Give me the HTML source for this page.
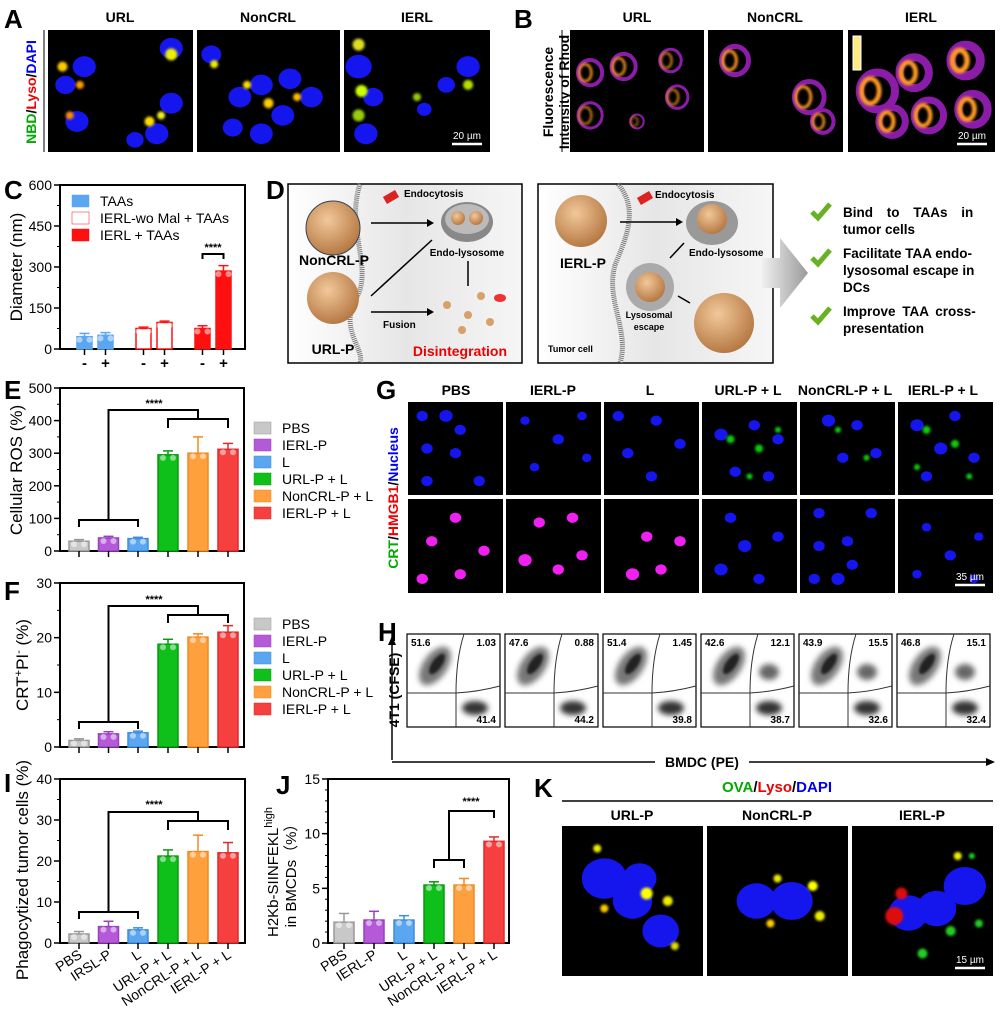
<!DOCTYPE html>
<html><head><meta charset="utf-8">
<style>
html,body{margin:0;padding:0;background:#fff;}
svg{display:block;font-family:"Liberation Sans",Arial,sans-serif;}
.pl{font-size:26px;font-weight:bold;}
.hd{font-size:14px;font-weight:bold;text-anchor:middle;}
.tk{font-size:14px;}
</style></head>
<body>
<svg id="fig" width="1000" height="1024" viewBox="0 0 1000 1024" xmlns="http://www.w3.org/2000/svg">
<defs>
<radialGradient id="sph" cx="40%" cy="35%" r="65%"><stop offset="0" stop-color="#f2c89a"/><stop offset="1" stop-color="#b77a45"/></radialGradient>
<linearGradient id="cellbg" x1="0" x2="1"><stop offset="0" stop-color="#ffffff"/><stop offset="0.5" stop-color="#e6e6e6"/><stop offset="1" stop-color="#f6f6f6"/></linearGradient>
<linearGradient id="arr" x1="0" x2="1"><stop offset="0" stop-color="#f0f0f0"/><stop offset="1" stop-color="#9a9a9a"/></linearGradient>
<filter id="bl" x="-50%" y="-50%" width="200%" height="200%"><feGaussianBlur stdDeviation="3"/></filter>
<filter id="bl2" x="-50%" y="-50%" width="200%" height="200%"><feGaussianBlur stdDeviation="1.2"/></filter>
</defs>

<text class="pl" x="4" y="28">A</text>
<text class="pl" x="514" y="28">B</text>
<text class="pl" x="4" y="199">C</text>
<text class="pl" x="266" y="199">D</text>
<text class="pl" x="4" y="399">E</text>
<text class="pl" x="4" y="600">F</text>
<text class="pl" x="376" y="399">G</text>
<text class="pl" x="378" y="641">H</text>
<text class="pl" x="4" y="792">I</text>
<text class="pl" x="276" y="794">J</text>
<text class="pl" x="534" y="797">K</text>

<g>
<text class="hd" x="120" y="22">URL</text>
<text class="hd" x="268" y="22">NonCRL</text>
<text class="hd" x="417" y="22">IERL</text>
<text transform="translate(36,92) rotate(-90)" text-anchor="middle" font-size="14" font-weight="bold"><tspan fill="#0a0">NBD</tspan><tspan fill="#000">/</tspan><tspan fill="#e00">Lyso</tspan><tspan fill="#000">/</tspan><tspan fill="#00e">DAPI</tspan></text>
<line x1="44" y1="30" x2="44" y2="152" stroke="#000" stroke-width="1"/>
</g>
<g>
<text class="hd" x="637" y="22">URL</text>
<text class="hd" x="775" y="22">NonCRL</text>
<text class="hd" x="921" y="22">IERL</text>
<text transform="translate(553,92) rotate(-90)" text-anchor="middle" font-size="14" font-weight="bold">Fluorescence</text>
<text transform="translate(569,92) rotate(-90)" text-anchor="middle" font-size="14" font-weight="bold">Intensity of Rhod</text>
<line x1="562" y1="30" x2="562" y2="152" stroke="#000"/>
</g>
<g id="imgs"></g>

<g>
<rect x="288" y="184" width="234" height="179" fill="url(#cellbg)" stroke="#000" stroke-width="1.5"/>
<path d="M360 184 C345 230 375 270 355 300 C340 330 365 350 360 363" fill="none" stroke="#777" stroke-width="5" stroke-dasharray="1 1"/>
<circle cx="333" cy="228" r="27" fill="url(#sph)" stroke="#345" stroke-width="1"/>
<circle cx="333" cy="298" r="26" fill="url(#sph)"/>
<text x="334" y="265" font-size="14" font-weight="bold" text-anchor="middle">NonCRL-P</text>
<text x="333" y="354" font-size="14" font-weight="bold" text-anchor="middle">URL-P</text>
<text x="404" y="197" font-size="10" font-weight="bold">Endocytosis</text>
<rect x="384" y="193" width="14" height="8" fill="#d22" transform="rotate(-30 391 197)"/>
<line x1="371" y1="223" x2="430" y2="223" stroke="#000" stroke-width="1.5"/><polygon points="434,223 427,219 427,227" fill="#000"/>
<ellipse cx="467" cy="222" rx="26" ry="20" fill="#888"/><ellipse cx="467" cy="219" rx="22" ry="15" fill="#bbb"/>
<circle cx="458" cy="218" r="7" fill="url(#sph)"/><circle cx="476" cy="218" r="7" fill="url(#sph)"/>
<text x="467" y="256" font-size="10" font-weight="bold" text-anchor="middle">Endo-lysosome</text>
<line x1="371" y1="296" x2="432" y2="240" stroke="#000" stroke-width="1.5"/>
<line x1="468" y1="261" x2="468" y2="286" stroke="#000" stroke-width="1.5"/>
<line x1="371" y1="312" x2="430" y2="312" stroke="#000" stroke-width="1.5"/><polygon points="434,312 427,308 427,316" fill="#000"/>
<text x="383" y="328" font-size="10" font-weight="bold">Fusion</text>
<g fill="#d9a06a"><circle cx="447" cy="305" r="4"/><circle cx="468" cy="315" r="4"/><circle cx="462" cy="330" r="4"/><circle cx="490" cy="322" r="4"/><circle cx="481" cy="296" r="4"/></g>
<ellipse cx="500" cy="298" rx="6" ry="4" fill="#e33"/>
<text x="507" y="356" font-size="14" font-weight="bold" fill="#e00" text-anchor="end">Disintegration</text>

<rect x="538" y="184" width="235" height="179" fill="url(#cellbg)" stroke="#000" stroke-width="1.5"/>
<path d="M618 184 C640 210 625 240 615 265 C605 300 630 330 620 363" fill="none" stroke="#777" stroke-width="5" stroke-dasharray="1 1"/>
<circle cx="581" cy="221" r="26" fill="url(#sph)"/>
<text x="583" y="268" font-size="14" font-weight="bold" text-anchor="middle">IERL-P</text>
<text x="655" y="198" font-size="10" font-weight="bold">Endocytosis</text>
<rect x="638" y="194" width="14" height="8" fill="#d22" transform="rotate(-30 645 198)"/>
<line x1="620" y1="222" x2="678" y2="222" stroke="#000" stroke-width="1.5"/><polygon points="683,222 676,218 676,226" fill="#000"/>
<ellipse cx="712" cy="223" rx="26" ry="22" fill="#999"/><circle cx="712" cy="219" r="15" fill="url(#sph)"/>
<text x="689" y="256" font-size="10" font-weight="bold">Endo-lysosome</text>
<line x1="684" y1="243" x2="670" y2="258" stroke="#000" stroke-width="1.5"/>
<circle cx="650" cy="287" r="24" fill="#aaa"/><circle cx="650" cy="287" r="15" fill="url(#sph)"/>
<text x="649" y="318" font-size="9" font-weight="bold" text-anchor="middle">Lysosomal</text>
<text x="649" y="330" font-size="9" font-weight="bold" text-anchor="middle">escape</text>
<line x1="678" y1="296" x2="690" y2="303" stroke="#000" stroke-width="1.5"/>
<circle cx="724" cy="323" r="30" fill="url(#sph)"/>
<text x="548" y="352" font-size="9" font-weight="bold">Tumor cell</text>
<polygon points="762,258 780,258 780,238 808,273 780,308 780,288 762,288" fill="url(#arr)"/>
<g font-size="13.5" font-weight="bold">
<path d="M812 212 l6 6 l12 -14" stroke="#6ab023" stroke-width="5" fill="none"/>
<text x="843" y="217" word-spacing="10">Bind to TAAs in</text>
<text x="843" y="234">tumor cells</text>
<path d="M812 258 l6 6 l12 -14" stroke="#6ab023" stroke-width="5" fill="none"/>
<text x="843" y="258">Facilitate TAA endo-</text>
<text x="843" y="275">lysosomal escape in</text>
<text x="843" y="292">DCs</text>
<path d="M812 316 l6 6 l12 -14" stroke="#6ab023" stroke-width="5" fill="none"/>
<text x="843" y="316" word-spacing="3">Improve TAA cross-</text>
<text x="843" y="333">presentation</text>
</g>
</g>

<g>
<text class="hd" x="456" y="395">PBS</text>
<text class="hd" x="553" y="395">IERL-P</text>
<text class="hd" x="650" y="395">L</text>
<text class="hd" x="748" y="395">URL-P + L</text>
<text class="hd" x="845" y="395">NonCRL-P + L</text>
<text class="hd" x="943" y="395">IERL-P + L</text>
<text transform="translate(398,498) rotate(-90)" text-anchor="middle" font-size="14" font-weight="bold"><tspan fill="#0a0">CRT</tspan><tspan>/</tspan><tspan fill="#e00">HMGB1</tspan><tspan>/</tspan><tspan fill="#00e">Nucleus</tspan></text>
</g>

<g id="hpanel">
<text transform="translate(399,690) rotate(-90)" text-anchor="middle" font-size="14" font-weight="bold">4T1 (CFSE)</text>
<line x1="392" y1="760" x2="392" y2="640" stroke="#000" stroke-width="1.5"/><polygon points="392,636 388,645 396,645" fill="#000"/>
<line x1="392" y1="762" x2="655" y2="762" stroke="#000" stroke-width="1.5"/>
<text x="702" y="767" font-size="14" font-weight="bold" text-anchor="middle">BMDC (PE)</text>
<line x1="749" y1="762" x2="990" y2="762" stroke="#000" stroke-width="1.5"/><polygon points="995,762 986,758 986,766" fill="#000"/>
</g>

<g>
<text x="777" y="792" font-size="15" font-weight="bold" text-anchor="middle"><tspan fill="#0a0">OVA</tspan><tspan>/</tspan><tspan fill="#e00">Lyso</tspan><tspan>/</tspan><tspan fill="#00e">DAPI</tspan></text>
<line x1="562" y1="801" x2="993" y2="801" stroke="#000" stroke-width="1.5"/>
<text class="hd" x="632" y="820">URL-P</text>
<text class="hd" x="777" y="820">NonCRL-P</text>
<text class="hd" x="922" y="820">IERL-P</text>
</g>

<g id="charts"></g>
</svg>

<script>
const groupLabels = ['PBS','IERL-P','L','URL-P + L','NonCRL-P + L','IERL-P + L'];
const groupLabelsI = ['PBS','IRSL-P','L','URL-P + L','NonCRL-P + L','IERL-P + L'];
const cCategories = ['-','+','-','+','-','+'];
const cLegend = ['TAAs','IERL-wo Mal + TAAs','IERL + TAAs'];
const cValues = [45, 50, 75, 97, 75, 285];
const cErrors = [12, 10, 5, 5, 10, 20];
const cTicks = [0, 150, 300, 450, 600];
const eValues = [30, 40, 38, 295, 300, 312];
const eErrors = [5, 5, 4, 12, 50, 18];
const eTicks = [0, 100, 200, 300, 400, 500];
const fValues = [1.2, 2.4, 2.6, 18.8, 20.1, 21.0];
const fErrors = [0.3, 0.4, 0.3, 0.9, 0.6, 1.2];
const fTicks = [0, 10, 20, 30];
const iValues = [2.2, 4.0, 3.2, 21.2, 22.3, 22.0];
const iErrors = [0.6, 1.3, 0.5, 1.5, 4.0, 2.5];
const iTicks = [0, 10, 20, 30, 40];
const jValues = [1.9, 2.1, 2.1, 5.3, 5.3, 9.3];
const jErrors = [0.8, 0.8, 0.4, 0.3, 0.6, 0.4];
const jTicks = [0, 5, 10, 15];
const hTopLeft = ['51.6','47.6','51.4','42.6','43.9','46.8'];
const hTopRight = ['1.03','0.88','1.45','12.1','15.5','15.1'];
const hBottomRight = ['41.4','44.2','39.8','38.7','32.6','32.4'];

const NS = 'http://www.w3.org/2000/svg';
const barColors = ['#c8c8c8','#b45ad8','#5aa6f0','#0fbf1a','#ffa03e','#f64040'];
const barStroke = ['#999','#9a3fc0','#3d8de0','#0a9a12','#f08a20','#e02a2a'];
function mk(tag, attrs, parent) {
  const e = document.createElementNS(NS, tag);
  for (const k in attrs) e.setAttribute(k, attrs[k]);
  (parent || document.getElementById('charts')).appendChild(e);
  return e;
}
function linearScale(d0, d1, r0, r1) { return v => r0 + (v - d0) / (d1 - d0) * (r1 - r0); }

function axes(g, x0, x1, yTop, yBot, ticks, y, minorStep) {
  const box = mk('rect', {x:x0, y:yTop, width:x1-x0, height:yBot-yTop, fill:'none', stroke:'#000', 'stroke-width':2}, g);
  
  
  ticks.forEach(t => {
    mk('line', {x1:x0-6, x2:x0, y1:y(t), y2:y(t), stroke:'#000', 'stroke-width':1.5}, g);
    const tx = mk('text', {x:x0-8, y:y(t)+5, 'text-anchor':'end', class:'tk'}, g);
    tx.textContent = t;
    
    
  });
  if (minorStep) {
    for (let v = ticks[0]; v <= ticks[ticks.length-1]; v += minorStep) {
      mk('line', {x1:x0-3, x2:x0, y1:y(v), y2:y(v), stroke:'#000', 'stroke-width':1}, g);
    }
  }
}
function bar(g, cx, w, v, err, y, fill, stroke, name) {
  const r = mk('rect', {x:cx-w/2, y:y(v), width:w, height:y(0)-y(v), fill:fill, stroke:stroke, 'stroke-width':1.5}, g);
  
  
  mk('line', {x1:cx, x2:cx, y1:y(v), y2:y(v+err), stroke:stroke, 'stroke-width':1.5}, g);
  mk('line', {x1:cx-5, x2:cx+5, y1:y(v+err), y2:y(v+err), stroke:stroke, 'stroke-width':1.5}, g);
  mk('circle', {cx:cx-5, cy:y(v)+3, r:3, fill:'#fff', opacity:0.5}, g);
  mk('circle', {cx:cx+5, cy:y(v)+3, r:3, fill:'#fff', opacity:0.5}, g);
}
function ylab(g, x, y, txt, name) {
  const t = mk('text', {transform:`translate(${x},${y}) rotate(-90)`, 'text-anchor':'middle', 'font-size':17}, g);
  t.innerHTML = txt;
  
  
  return t;
}
function bracket(g, x1, x2, yTop, yBot) {
  mk('path', {d:`M${x1} ${yBot} V${yTop} H${x2} V${yBot}`, fill:'none', stroke:'#000', 'stroke-width':2}, g);
}
function stars(g, x, y) {
  const t = mk('text', {x:x, y:y, 'text-anchor':'middle', 'font-size':11, 'font-weight':'bold'}, g);
  t.textContent = '****';
  
  
}
function legend(g, x, y0, items, colors, strokes) {
  items.forEach((s, i) => {
    const r = mk('rect', {x:x, y:y0+i*17-6, width:17, height:12, fill:colors[i], stroke:strokes[i], 'stroke-width':0.5}, g);
    
    
    const t = mk('text', {x:x+28, y:y0+i*17+5, 'font-size':14}, g);
    t.textContent = s;
    
    
  });
}

(function(){
  const g = mk('g', {});
  
  
  const y = linearScale(0, 600, 349, 185);
  axes(g, 60, 245, 185, 349, cTicks, y, 75);
  ylab(g, 22, 267, 'Diameter (nm)', 'y-axis-title-c');
  const fills = ['#5aa6f0','#5aa6f0','#fff','#fff','#ff1010','#ff1010'];
  const strokes = ['#5aa6f0','#5aa6f0','#ff1010','#ff1010','#ff1010','#ff1010'];
  cValues.forEach((v, i) => {
    const gi = Math.floor(i/2), s = i%2;
    const cx = 84.5 + gi*59 + s*21;
    bar(g, cx, 15, v, cErrors[i], y, fills[i], strokes[i], 'bar-c-'+i);
    mk('line', {x1:cx, x2:cx, y1:349, y2:355, stroke:'#000', 'stroke-width':1.5}, g);
    const t = mk('text', {x:cx, y:368, 'text-anchor':'middle', 'font-size':15, 'font-weight':'bold'}, g);
    t.textContent = cCategories[i];
    
    
  });
  legend(g, 72, 201, cLegend, ['#5aa6f0','#fff','#ff1010'], ['#5aa6f0','#ff1010','#ff1010']);
  bracket(g, 202.5, 223.5, 254, 259);
  stars(g, 213, 251);
})();

function sixBar(name, x0, x1, yTop, yBot, vals, errs, ticks, minor, centers, w) {
  const g = mk('g', {});
  
  
  const y = linearScale(ticks[0], ticks[ticks.length-1], yBot, yTop);
  axes(g, x0, x1, yTop, yBot, ticks, y, minor);
  vals.forEach((v, i) => {
    bar(g, centers[i], w, v, errs[i], y, barColors[i], barStroke[i], name+'-bar-'+i);
    mk('line', {x1:centers[i], x2:centers[i], y1:yBot, y2:yBot+6, stroke:'#000', 'stroke-width':1.5}, g);
  });
  return {g, y};
}
const c6 = [79, 108.5, 138, 168, 198, 228];

(function(){
  const {g} = sixBar('chart-e', 60, 244, 388, 551, eValues, eErrors, eTicks, 50, c6, 20);
  ylab(g, 22, 470, 'Cellular ROS (%)', 'y-axis-title-e');
  bracket(g, 79, 138, 520, 527);
  bracket(g, 168, 228, 419, 428);
  mk('path', {d:'M108.5 520 V410 H198 V419', fill:'none', stroke:'#000', 'stroke-width':2}, g);
  stars(g, 154, 407);
  legend(g, 254, 428, groupLabels, barColors, barStroke);
})();
(function(){
  const {g} = sixBar('chart-f', 60, 244, 583, 747, fValues, fErrors, fTicks, 5, c6, 20);
  ylab(g, 28, 665, 'CRT<tspan baseline-shift="super" font-size="11">+</tspan>PI<tspan baseline-shift="super" font-size="11">-</tspan> (%)', 'y-axis-title-f');
  bracket(g, 79, 138, 722, 729);
  bracket(g, 168, 228, 615, 623);
  mk('path', {d:'M108.5 722 V606 H198 V615', fill:'none', stroke:'#000', 'stroke-width':2}, g);
  stars(g, 154, 603);
  legend(g, 254, 624, groupLabels, barColors, barStroke);
})();
function rotLabels(g, centers, labels, yBot) {
  labels.forEach((s, i) => {
    const t = mk('text', {transform:`translate(${centers[i]+4},${yBot+14}) rotate(-33)`, 'text-anchor':'end', 'font-size':14}, g);
    t.textContent = s;
    
    
  });
}
(function(){
  const {g} = sixBar('chart-i', 60, 245, 779, 943, iValues, iErrors, iTicks, 5, c6, 20);
  ylab(g, 28, 870, 'Phagocytized tumor cells (%)', 'y-axis-title-i');
  bracket(g, 79, 138, 912, 919);
  bracket(g, 168, 228, 821, 830);
  mk('path', {d:'M108.5 912 V812 H198 V821', fill:'none', stroke:'#000', 'stroke-width':2}, g);
  stars(g, 154, 808);
  rotLabels(g, c6, groupLabelsI, 943);
})();
(function(){
  const cj = [344, 374, 404, 434, 464, 494];
  const {g} = sixBar('chart-j', 328, 509, 779, 943, jValues, jErrors, jTicks, 1, cj, 20);
  const t = ylab(g, 278, 872, 'H2Kb-SIINFEKL<tspan baseline-shift="super" font-size="11">high</tspan>', 'y-axis-title-j');
  t.setAttribute('font-size', '15');
  const t2 = ylab(g, 296, 872, 'in BMCDs（%）', 'y-axis-title-j-2');
  t2.setAttribute('font-size', '15');
  t2.setAttribute('font-family', '"Liberation Sans","Noto Sans CJK SC",sans-serif');
  bracket(g, 434, 464, 860, 868);
  mk('path', {d:'M449 860 V811 H494 V818', fill:'none', stroke:'#000', 'stroke-width':2}, g);
  stars(g, 471, 805);
  rotLabels(g, cj, groupLabels, 943);
})();

const imgs = document.getElementById('imgs');
function micro(x, y, w, h, cells, dots, name, scale) {
  const g = mk('g', {}, imgs);
  
  
  mk('rect', {x:x, y:y, width:w, height:h, fill:'#000'}, g);
  cells.forEach(c => mk('ellipse', {cx:x+c[0]*w, cy:y+c[1]*h, rx:c[2]*w, ry:c[2]*w*0.9, fill:c[3]||'#1515ee'}, g));
  dots.forEach(d => mk('circle', {cx:x+d[0]*w, cy:y+d[1]*h, r:d[2], fill:d[3], filter:'url(#bl2)'}, g));
  if (scale) {
    mk('line', {x1:x+w-38, x2:x+w-8, y1:y+h-8, y2:y+h-8, stroke:'#fff', 'stroke-width':2.5}, g);
    const t = mk('text', {x:x+w-23, y:y+h-13, 'text-anchor':'middle', 'font-size':10, fill:'#fff'}, g);
    t.textContent = scale;
  }
}
const cellsA1 = [[0.25,0.3,0.08],[0.12,0.45,0.07],[0.85,0.15,0.08],[0.2,0.75,0.08],[0.85,0.6,0.08],[0.75,0.85,0.08],[0.6,0.9,0.06]];
const dotsA1 = [[0.1,0.3,5,'#fc0'],[0.22,0.45,4,'#f90'],[0.85,0.2,6,'#ee0'],[0.15,0.7,4,'#f80'],[0.7,0.75,5,'#fd0'],[0.78,0.7,4,'#ee2']];
const cellsA2 = [[0.1,0.2,0.07],[0.3,0.55,0.08],[0.45,0.45,0.08],[0.6,0.7,0.08],[0.8,0.55,0.08],[0.65,0.4,0.08],[0.45,0.85,0.08],[0.25,0.8,0.07]];
const dotsA2 = [[0.12,0.28,4,'#ee0'],[0.5,0.6,5,'#fc0'],[0.7,0.55,4,'#fb0'],[0.35,0.45,4,'#fd0']];
const cellsA3 = [[0.1,0.3,0.09],[0.2,0.55,0.07],[0.15,0.85,0.08],[0.85,0.3,0.08],[0.7,0.45,0.06],[0.55,0.65,0.05]];
const dotsA3 = [[0.1,0.12,6,'#dd2'],[0.12,0.5,6,'#cf0'],[0.85,0.45,5,'#bd0'],[0.1,0.7,6,'#9c1'],[0.5,0.55,4,'#9c0']];
micro(48, 30, 145, 122, cellsA1, dotsA1, 'image-a-url');
micro(197, 30, 143, 122, cellsA2, dotsA2, 'image-a-noncrl');
micro(344, 30, 146, 122, cellsA3, dotsA3, 'image-a-ierl', '20 µm');
function rhod(x, y, w, h, rings, name, scale) {
  const g = mk('g', {}, imgs);
  
  
  mk('rect', {x:x, y:y, width:w, height:h, fill:'#000'}, g);
  rings.forEach(r => {
    mk('ellipse', {cx:x+r[0]*w, cy:y+r[1]*h, rx:r[2]*w, ry:r[2]*w*1.05, fill:'none', stroke:'#8a1ca8', 'stroke-width':r[3]}, g);
    mk('ellipse', {cx:x+r[0]*w-r[2]*w*0.4, cy:y+r[1]*h, rx:r[2]*w*0.5, ry:r[2]*w*0.7, fill:'none', stroke:'#ff9a20', 'stroke-width':r[3]*0.6, filter:'url(#bl2)'}, g);
  });
  if (scale) {
    mk('line', {x1:x+w-38, x2:x+w-8, y1:y+h-8, y2:y+h-8, stroke:'#fff', 'stroke-width':2.5}, g);
    const t = mk('text', {x:x+w-23, y:y+h-13, 'text-anchor':'middle', 'font-size':10, fill:'#fff'}, g);
    t.textContent = scale;
  }
}
rhod(570, 30, 134, 122, [[0.15,0.35,0.09,4],[0.4,0.3,0.09,4],[0.75,0.25,0.08,3],[0.15,0.7,0.09,3],[0.8,0.55,0.08,3],[0.5,0.75,0.05,2]], 'image-b-url');
rhod(708, 30, 135, 122, [[0.2,0.25,0.1,5],[0.75,0.55,0.11,5],[0.85,0.75,0.08,4]], 'image-b-noncrl');
rhod(848, 30, 147, 122, [[0.2,0.5,0.12,8],[0.45,0.35,0.1,8],[0.8,0.25,0.1,9],[0.55,0.7,0.1,7],[0.85,0.65,0.1,8],[0.3,0.75,0.09,7]], 'image-b-ierl', '20 µm');
(function(){
  const cb = mk('rect', {x:853, y:36, width:8, height:34, fill:'#ffeb80', stroke:'#fff'}, imgs);
  
  
})();

const gTop = [
  [[0.15,0.15,0.06],[0.4,0.15,0.07],[0.55,0.3,0.06],[0.2,0.5,0.06],[0.5,0.55,0.06],[0.2,0.85,0.06],[0.75,0.85,0.06]],
  [[0.2,0.2,0.05],[0.55,0.4,0.06],[0.8,0.15,0.05],[0.3,0.7,0.05],[0.85,0.6,0.05]],
  [[0.15,0.15,0.06],[0.55,0.2,0.06],[0.25,0.55,0.06],[0.8,0.45,0.06],[0.5,0.8,0.06]],
  [[0.2,0.35,0.07],[0.55,0.25,0.06],[0.8,0.4,0.06],[0.35,0.75,0.06],[0.7,0.8,0.06]],
  [[0.3,0.2,0.07],[0.6,0.25,0.06],[0.45,0.6,0.06],[0.8,0.55,0.06]],
  [[0.2,0.25,0.07],[0.6,0.15,0.06],[0.45,0.5,0.07],[0.8,0.6,0.06],[0.3,0.8,0.06]]
];
const gBotColor = ['#f020f0','#f020f0','#f020f0','#1515ee','#1515ee','#1515ee'];
const gGreen = [[], [], [], [[0.3,0.4,4,'#1c1'],[0.6,0.5,4,'#1c1'],[0.8,0.3,3,'#1c1'],[0.5,0.8,3,'#1c1']], [[0.4,0.3,3,'#1c1'],[0.7,0.6,3,'#1c1']], [[0.3,0.3,4,'#1c1'],[0.6,0.45,4,'#1c1'],[0.2,0.7,3,'#1c1'],[0.75,0.8,3,'#1c1']]];
for (let i = 0; i < 6; i++) {
  const x = 408 + i*98;
  micro(x, 402, 95, 93, gTop[i], gGreen[i], 'image-g-top-'+i);
  const cells = gTop[(i+2)%6].map(c => [c[0], 1-c[1], c[2], gBotColor[i]]);
  micro(x, 499, 95, 94, cells, [], 'image-g-bottom-'+i, i === 5 ? '35 µm' : null);
}

const hp = document.getElementById('hpanel');
for (let i = 0; i < 6; i++) {
  const x = 407 + i*98, y = 634, w = 93, h = 93;
  const g = mk('g', {}, hp);
  
  
  mk('rect', {x:x, y:y, width:w, height:h, fill:'#fff', stroke:'#000', 'stroke-width':1.2}, g);
  mk('ellipse', {cx:x+28, cy:y+32, rx:22, ry:12, transform:`rotate(-55 ${x+28} ${y+32})`, fill:'#777', filter:'url(#bl)'}, g);
  mk('ellipse', {cx:x+30, cy:y+30, rx:12, ry:5, transform:`rotate(-55 ${x+30} ${y+30})`, fill:'#222', filter:'url(#bl2)'}, g);
  mk('ellipse', {cx:x+68, cy:y+74, rx:13, ry:7, fill:'#333', filter:'url(#bl)'}, g);
  if (i >= 3) mk('ellipse', {cx:x+68, cy:y+38, rx:10, ry:8, fill:'#666', filter:'url(#bl)'}, g);
  mk('path', {d:`M${x} ${y+59} H${x+49} Q${x+70} ${y+58} ${x+93} ${y+52}`, fill:'none', stroke:'#333', 'stroke-width':1}, g);
  mk('path', {d:`M${x+49} ${y+93} V${y+59} Q${x+49} ${y+25} ${x+57} ${y}`, fill:'none', stroke:'#333', 'stroke-width':1}, g);
  const t1 = mk('text', {x:x+4, y:y+12, 'font-size':10, 'font-weight':'bold'}, g); t1.textContent = hTopLeft[i];
  const t2 = mk('text', {x:x+w-4, y:y+12, 'font-size':10, 'font-weight':'bold', 'text-anchor':'end'}, g); t2.textContent = hTopRight[i];
  const t3 = mk('text', {x:x+w-4, y:y+h-4, 'font-size':10, 'font-weight':'bold', 'text-anchor':'end'}, g); t3.textContent = hBottomRight[i];
}

micro(562, 826, 141, 150, [[0.3,0.35,0.16],[0.5,0.5,0.14],[0.7,0.7,0.13],[0.55,0.35,0.12]], [[0.25,0.15,4,'#ee0'],[0.6,0.45,6,'#ff0'],[0.75,0.5,5,'#ee0'],[0.3,0.55,4,'#fc0'],[0.8,0.8,4,'#dd0']], 'image-k-url');
micro(707, 826, 141, 150, [[0.35,0.5,0.14],[0.6,0.5,0.15]], [[0.5,0.35,4,'#ee0'],[0.75,0.4,5,'#ff0'],[0.8,0.6,5,'#ee0'],[0.45,0.65,4,'#fc0']], 'image-k-noncrl');
micro(852, 826, 141, 150, [[0.4,0.58,0.14],[0.6,0.55,0.14],[0.8,0.4,0.15]], [[0.3,0.6,9,'#d11'],[0.35,0.45,6,'#d11'],[0.75,0.2,4,'#ee0'],[0.7,0.7,5,'#2c2'],[0.9,0.65,4,'#2c2'],[0.5,0.85,5,'#2c2'],[0.85,0.2,3,'#2c2']], 'image-k-ierl', '15 µm');
</script>
</body></html>
